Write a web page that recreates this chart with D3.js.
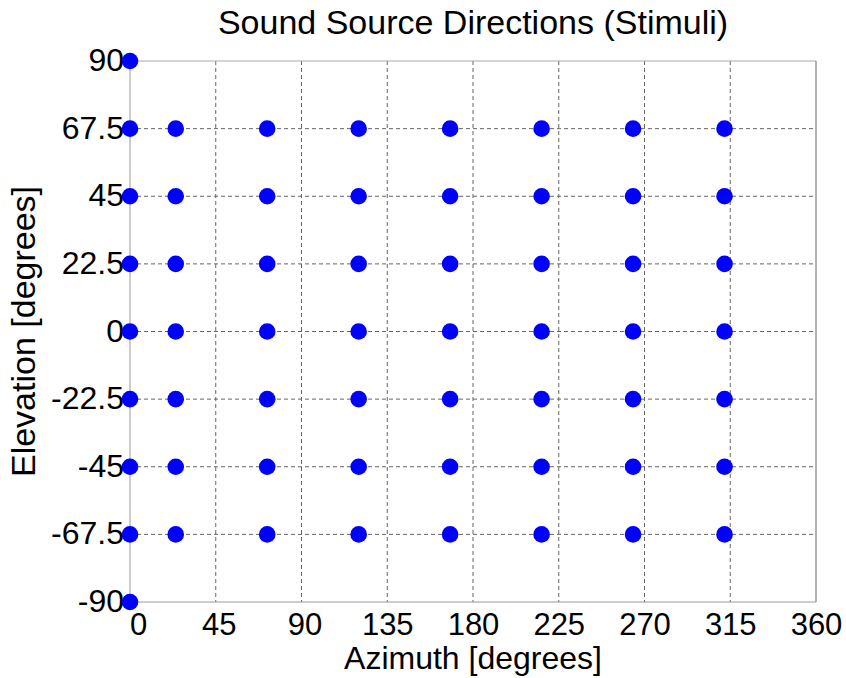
<!DOCTYPE html>
<html>
<head>
<meta charset="utf-8">
<script src="https://cdn.jsdelivr.net/npm/d3@7"></script>
<style>
  body { margin: 0; background: #fff; }
  text { font-family: Arial, "Liberation Sans", sans-serif; fill: #000; }
</style>
</head>
<body>
<script>
// stimulus grid
const azimuths = [24, 72, 120, 168, 216, 264, 312]
const elevations = [-67.5, -45, -22.5, 0, 22.5, 45, 67.5]
const frontElevations = [-90, -67.5, -45, -22.5, 0, 22.5, 45, 67.5, 90]
const xTicks = [0, 45, 90, 135, 180, 225, 270, 315, 360]
const yTicks = [-90, -67.5, -45, -22.5, 0, 22.5, 45, 67.5, 90]

const points = []
frontElevations.forEach(e => points.push({az: 0, el: e}))
azimuths.forEach(a => elevations.forEach(e => points.push({az: a, el: e})))

const margin = ({top: 61, right: 30, bottom: 76, left: 130})
const W = 846, H = 678
const width = W - margin.left - margin.right,
  height = H - margin.top - margin.bottom

const svg = d3.select('body').append('svg')
  .attr('width', W)
  .attr('height', H)

const g = svg.append('g')
  .attr('transform', `translate(${margin.left},${margin.top})`)

const xScale = d3.scaleLinear().domain([0, 360]).range([0, width])
const yScale = d3.scaleLinear().domain([-90, 90]).range([height, 0])

// grid
g.append('g')
  .selectAll('line')
  .data(xTicks.slice(1, -1))
  .join('line')
  .attr('x1', d => xScale(d)).attr('x2', d => xScale(d))
  .attr('y1', 0).attr('y2', height)
  .attr('stroke', '#666')
  .attr('stroke-dasharray', '4,3')

g.append('g')
  .selectAll('line')
  .data(yTicks.slice(1, -1))
  .join('line')
  .attr('y1', d => yScale(d)).attr('y2', d => yScale(d))
  .attr('x1', 0).attr('x2', width)
  .attr('stroke', '#666')
  .attr('stroke-dasharray', '4,3')

// box
g.append('line').attr('x1', 0).attr('x2', width).attr('y1', 0).attr('y2', 0).attr('stroke', '#aaa')
g.append('line').attr('x1', width).attr('x2', width).attr('y1', 0).attr('y2', height).attr('stroke', '#666')
g.append('line').attr('x1', 0).attr('x2', width).attr('y1', height).attr('y2', height).attr('stroke', '#999')
g.append('line').attr('x1', 0).attr('x2', 0).attr('y1', 0).attr('y2', height).attr('stroke', '#999')

// x axis
const xAxis = d3.axisBottom(xScale).tickValues(xTicks).tickSize(0).tickPadding(0)
g.append('g')
  .attr('transform', `translate(0,${height})`)
  .call(xAxis)
  .call(a => a.select('.domain').remove())
  .selectAll('text')
  .attr('font-size', 31)
  .attr('font-family', 'Arial, "Liberation Sans", sans-serif')
  .attr('dy', null)
  .attr('y', 33)
  .attr('dx', d => d === 0 ? 8 : (d < 135 ? 3 : 0))

// y axis
const yAxis = d3.axisLeft(yScale).tickValues(yTicks).tickSize(0).tickPadding(6)
  .tickFormat(d => d)
g.append('g')
  .call(yAxis)
  .call(a => a.select('.domain').remove())
  .selectAll('text')
  .attr('font-size', 32)
  .attr('font-family', 'Arial, "Liberation Sans", sans-serif')
  .attr('dy', '0.3em')

// points
g.append('g')
  .attr('fill', '#0000ff')
  .selectAll('circle')
  .data(points)
  .join('circle')
  .attr('cx', d => xScale(d.az))
  .attr('cy', d => yScale(d.el))
  .attr('r', 8.3)

// labels
svg.append('text')
  .attr('x', margin.left + width / 2)
  .attr('y', 34)
  .attr('text-anchor', 'middle')
  .attr('font-size', 34)
  .text('Sound Source Directions (Stimuli)')

svg.append('text')
  .attr('x', margin.left + width / 2)
  .attr('y', 669)
  .attr('text-anchor', 'middle')
  .attr('font-size', 32)
  .text('Azimuth [degrees]')

svg.append('text')
  .attr('transform', `translate(35,${margin.top + height / 2}) rotate(-90)`)
  .attr('text-anchor', 'middle')
  .attr('font-size', 34)
  .text('Elevation [degrees]')
</script>
</body>
</html>
